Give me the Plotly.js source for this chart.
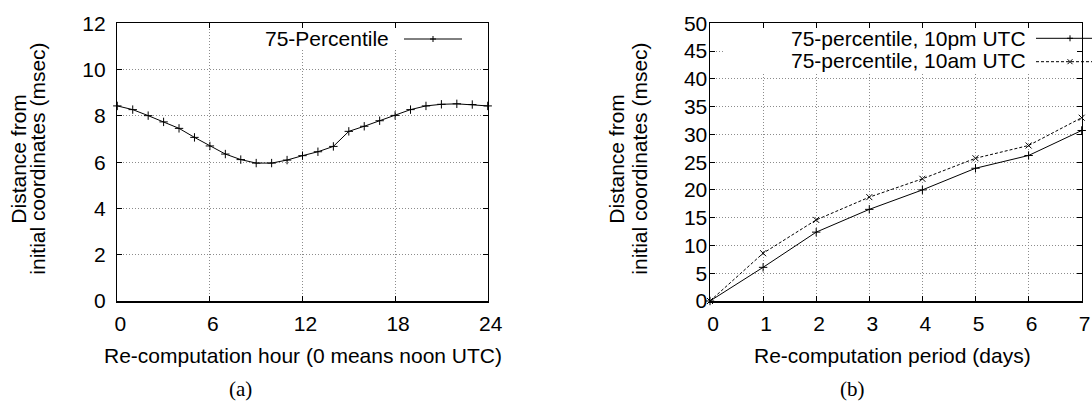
<!DOCTYPE html>
<html>
<head>
<meta charset="utf-8">
<script src="https://cdn.plot.ly/plotly-3.0.1.min.js"></script>
<style>
html,body{margin:0;padding:0;background:#fff;}
#chart{width:1092px;height:403px;}
</style>
</head>
<body>
<div id="chart"></div>
<script>
// ---------- data ----------
const hours = [0,1,2,3,4,5,6,7,8,9,10,11,12,13,14,15,16,17,18,19,20,21,22,23,24];
const pct75 = [8.43,8.27,8.01,7.74,7.46,7.07,6.70,6.35,6.11,5.96,5.96,6.09,6.28,6.45,6.68,7.33,7.55,7.79,8.02,8.27,8.43,8.50,8.52,8.49,8.43];
const days = [0,1,2,3,4,5,6,7];
const pm10 = [0,6.06,12.4,16.5,20.0,23.9,26.2,30.7];
const am10 = [0,8.6,14.6,18.7,22.0,25.7,28.0,33.0];
const xTicksA = [0,6,12,18,24];
const yTicksA = [0,2,4,6,8,10,12];
const xTicksB = [0,1,2,3,4,5,6,7];
const yTicksB = [0,5,10,15,20,25,30,35,40,45,50];
const nameA = '75-Percentile';
const namePm = '75-percentile, 10pm UTC';
const nameAm = '75-percentile, 10am UTC';
const xTitleA = 'Re-computation hour (0 means noon UTC)';
const xTitleB = 'Re-computation period (days)';
const yTitle1 = 'Distance from';
const yTitle2 = 'initial coordinates (msec)';
const capA = '(a)';
const capB = '(b)';

// ---------- layout helpers (pixel -> paper) ----------
const W = 1092, H = 403;
const px = v => v / W;
const py = v => 1 - v / H;
const SANS = 'Liberation Sans, Arial, Helvetica, sans-serif';
const SERIF = 'Liberation Serif, Times New Roman, serif';
const FS = 21;

const plotTop = 23.3, plotBot = 301;
const A = {l: 117.3, r: 487.7};
const B = {l: 710, r: 1081.7};

function axisStyle(extra) {
  return Object.assign({
    showline: true, linecolor: '#000', linewidth: 1.5, mirror: 'ticks',
    ticks: 'inside', ticklen: 5, tickwidth: 1, tickcolor: '#000',
    showgrid: true, gridcolor: '#8c8c8c', griddash: '1px,2px', gridwidth: 1,
    zeroline: false, automargin: false,
    tickfont: {family: SANS, size: FS, color: '#000'}
  }, extra);
}

const lineStyle = {color: '#000', width: 1};

const traces = [
  {x: hours, y: pct75, xaxis: 'x', yaxis: 'y', mode: 'lines+markers', name: nameA,
   line: lineStyle, marker: {symbol: 'cross-thin-open', size: 6, color: '#000', line: {width: 1, color: '#000'}},
   showlegend: false, cliponaxis: false},
  {x: days, y: pm10, xaxis: 'x2', yaxis: 'y2', mode: 'lines+markers', name: namePm,
   line: lineStyle, marker: {symbol: 'cross-thin-open', size: 6, color: '#000', line: {width: 1, color: '#000'}},
   showlegend: false, cliponaxis: false},
  {x: days, y: am10, xaxis: 'x2', yaxis: 'y2', mode: 'lines+markers', name: nameAm,
   line: {color: '#000', width: 1, dash: '3px,2px'}, marker: {symbol: 'x-thin-open', size: 6, color: '#000', line: {width: 1, color: '#000'}},
   showlegend: false, cliponaxis: false}
];

function ann(text, x, y, opts) {
  return Object.assign({
    text: text, xref: 'paper', yref: 'paper', x: px(x), y: py(y),
    xanchor: 'center', yanchor: 'middle', showarrow: false,
    font: {family: SANS, size: FS, color: '#000'}
  }, opts || {});
}

const annotations = [
  ann(xTitleA, (A.l + A.r) / 2, 355),
  ann(xTitleB, 892, 355),
  ann(yTitle1, 17.7, 159, {textangle: -90}),
  ann(yTitle2, 36.7, 159, {textangle: -90}),
  ann(yTitle1, 615.7, 159, {textangle: -90}),
  ann(yTitle2, 638.7, 159, {textangle: -90}),
  ann(capA, 240, 389, {font: {family: SERIF, size: FS, color: '#000'}}),
  ann(capB, 852, 389, {font: {family: SERIF, size: FS, color: '#000'}}),
  ann(nameA, 391, 38, {xanchor: 'right'}),
  ann(namePm, 1028, 38, {xanchor: 'right'}),
  ann(nameAm, 1028, 61, {xanchor: 'right'})
];

function seg(x0, y0, x1, y1, dash) {
  return {type: 'line', xref: 'paper', yref: 'paper', layer: 'above',
    x0: px(x0), y0: py(y0), x1: px(x1), y1: py(y1),
    line: {color: '#000', width: 1, dash: dash || 'solid'}};
}
function plus(cx, cy, r) {
  return [seg(cx - r, cy, cx + r, cy), seg(cx, cy - r, cx, cy + r)];
}
function cross(cx, cy, r) {
  return [seg(cx - r, cy - r, cx + r, cy + r), seg(cx - r, cy + r, cx + r, cy - r)];
}

const shapes = [
  // opaque key boxes (cover the grid like gnuplot's key)
  {type: 'rect', xref: 'x', yref: 'y', layer: 'between', x0: 8.7, x1: 24, y0: 10.85, y1: 12,
   fillcolor: '#fff', line: {width: 0}},
  {type: 'rect', xref: 'x2', yref: 'y2', layer: 'between', x0: 0.25, x1: 7, y0: 41.2, y1: 50,
   fillcolor: '#fff', line: {width: 0}},
  // key samples
  seg(404, 39, 462, 39),
  ...plus(433, 39, 3),
  seg(1036, 38.3, 1104, 38.3),
  ...plus(1070, 38.3, 3),
  seg(1036, 61.7, 1104, 61.7, '3px,2px'),
  ...cross(1070, 61.7, 2.5)
];

const layout = {
  width: W, height: H,
  margin: {l: 0, r: 0, t: 0, b: 0, pad: 0},
  paper_bgcolor: '#fff', plot_bgcolor: '#fff',
  showlegend: false,
  font: {family: SANS, size: FS, color: '#000'},
  xaxis: axisStyle({domain: [px(A.l), px(A.r)], range: [0, 24], tickvals: xTicksA, anchor: 'y',
    ticklabelstandoff: 3, ticklabelshift: 3}),
  yaxis: axisStyle({domain: [py(plotBot), py(plotTop)], range: [0, 12], tickvals: yTicksA, anchor: 'x',
    ticklabelstandoff: 6}),
  xaxis2: axisStyle({domain: [px(B.l), px(B.r)], range: [0, 7], tickvals: xTicksB, anchor: 'y2',
    ticklabelstandoff: 3, ticklabelshift: 3}),
  yaxis2: axisStyle({domain: [py(plotBot), py(plotTop)], range: [0, 50], tickvals: yTicksB, anchor: 'x2',
    ticklabelstandoff: -3}),
  annotations: annotations,
  shapes: shapes
};

Plotly.newPlot('chart', traces, layout, {staticPlot: true, displayModeBar: false});
</script>
</body>
</html>
